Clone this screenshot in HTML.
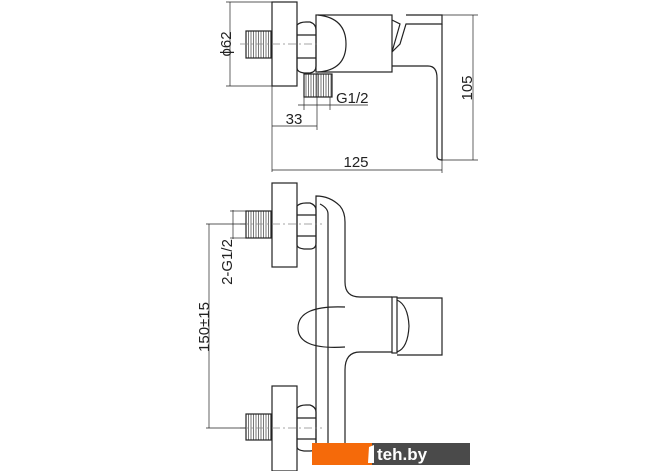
<!DOCTYPE html>
<html><head><meta charset="utf-8"><style>
html,body{margin:0;padding:0;background:#fff;}
svg{display:block;}
text{font-family:"Liberation Sans",sans-serif;fill:#222;}
</style></head><body>
<svg width="670" height="471" viewBox="0 0 670 471" xmlns="http://www.w3.org/2000/svg">
<defs>
<pattern id="thr" width="2.5" height="10" patternUnits="userSpaceOnUse">
<rect width="2.5" height="10" fill="#fff"/><line x1="1" y1="0" x2="1" y2="10" stroke="#777" stroke-width="1"/>
</pattern>
</defs>
<g fill="none" stroke="#222" stroke-width="1.2">
<!-- TOP VIEW -->
<rect x="272" y="2" width="25" height="84" fill="#fff"/>
<rect x="246" y="31" width="25" height="27" fill="url(#thr)"/>
<path d="M297 25 Q300 22 306 22 L310 22 Q316 24 316 30 L316 66 Q316 72 310 73 L304 73 Q297 72 297 68 Z"/>
<line x1="297" y1="35" x2="316" y2="35"/><line x1="297" y1="58" x2="316" y2="58"/>
<rect x="316" y="15" width="76" height="57"/>
<path d="M318 15 Q346 18 346 44 Q346 70 318 72"/>
<rect x="304" y="74" width="28" height="23" fill="url(#thr)"/>
<path d="M392 20 L400 24 L394 45 L392 52"/>
<path d="M406 15 L442 15 L442 24 L406 24 L400 44 L392 52"/>
<path d="M392 66 L428 66 Q437 66 437 78 L437 156 Q437 160 442 160 L442 24"/>
<line x1="240" y1="44" x2="320" y2="44" stroke="#888" stroke-width="0.7" stroke-dasharray="8,3,2,3"/>
<g stroke-width="0.7">
<line x1="230" y1="2" x2="230" y2="86"/><line x1="226" y1="2" x2="272" y2="2"/><line x1="226" y1="86" x2="272" y2="86"/>
<line x1="304" y1="97" x2="304" y2="110"/><line x1="330" y1="97" x2="330" y2="110"/>
<line x1="298" y1="105" x2="368" y2="105"/>
<line x1="272" y1="86" x2="272" y2="172"/><line x1="317" y1="73" x2="317" y2="130"/>
<line x1="272" y1="126" x2="317" y2="126"/>
<line x1="442" y1="160" x2="442" y2="173"/>
<line x1="272" y1="170" x2="442" y2="170"/>
<line x1="442" y1="15" x2="478" y2="15"/><line x1="442" y1="160" x2="478" y2="160"/>
<line x1="473" y1="15" x2="473" y2="160"/>
</g>
<!-- BOTTOM VIEW -->
<rect x="272" y="183" width="25" height="84" fill="#fff"/>
<rect x="246" y="211" width="25" height="27" fill="url(#thr)"/>
<path d="M297 206 Q300 203 306 203 L310 203 Q316 205 316 210 L316 243 Q316 249 310 249 L304 249 Q297 248 297 245 Z"/>
<line x1="297" y1="215" x2="316" y2="215"/><line x1="297" y1="236" x2="316" y2="236"/>
<rect x="272" y="386" width="25" height="85" fill="#fff"/>
<rect x="246" y="414" width="25" height="26" fill="url(#thr)"/>
<path d="M297 408 Q300 405 306 405 L310 405 Q316 407 316 412 L316 446 Q316 451 310 451 L304 451 Q297 450 297 447 Z"/>
<line x1="297" y1="418" x2="316" y2="418"/><line x1="297" y1="439" x2="316" y2="439"/>
<path d="M316 445 L316 196 Q330 196 340 206 Q345 212 345 222 L345 282 Q345 297 360 297 L392 297"/>
<path d="M328 445 L328 214 Q328 208 320 204"/>
<path d="M392 352 L360 352 Q345 352 345 370 L345 445"/>
<path d="M345 307 Q298 305 298 328 Q298 350 345 347"/>
<rect x="392" y="297" width="5" height="56"/>
<path d="M397 300 Q408 305 409 326 Q408 348 397 352"/>
<path d="M397 298 L442 298 L442 355 L397 355"/>
<line x1="240" y1="224" x2="322" y2="224" stroke="#888" stroke-width="0.7" stroke-dasharray="8,3,2,3"/>
<line x1="240" y1="428" x2="322" y2="428" stroke="#888" stroke-width="0.7" stroke-dasharray="8,3,2,3"/>
<g stroke-width="0.7">
<line x1="233" y1="210" x2="233" y2="239"/><line x1="230" y1="211" x2="246" y2="211"/><line x1="230" y1="238" x2="246" y2="238"/>
<line x1="209" y1="224" x2="209" y2="428"/><line x1="206" y1="224" x2="246" y2="224"/><line x1="206" y1="428" x2="246" y2="428"/>
</g>
</g>
<text x="0" y="0" font-size="15" transform="translate(231,44) rotate(-90)" text-anchor="middle">ϕ62</text>
<text x="336" y="103" font-size="15">G1/2</text>
<text x="294" y="124" font-size="15" text-anchor="middle">33</text>
<text x="356" y="167" font-size="15" text-anchor="middle">125</text>
<text x="0" y="0" font-size="15" transform="translate(472,88) rotate(-90)" text-anchor="middle">105</text>
<text x="0" y="0" font-size="15" transform="translate(232,262) rotate(-90)" text-anchor="middle">2-G1/2</text>
<text x="0" y="0" font-size="15" transform="translate(209,327) rotate(-90)" text-anchor="middle">150±15</text>
<rect x="312" y="443" width="60" height="22" fill="#f56a0a"/>
<rect x="372" y="443" width="98" height="22" fill="#4a4a4a"/>
<path d="M369 447 L374 445 L374 463 L368 463 Z" fill="#fff"/>
<text x="377" y="460" font-size="17" font-weight="bold" style="fill:#fff">teh.by</text>
</svg>
</body></html>
